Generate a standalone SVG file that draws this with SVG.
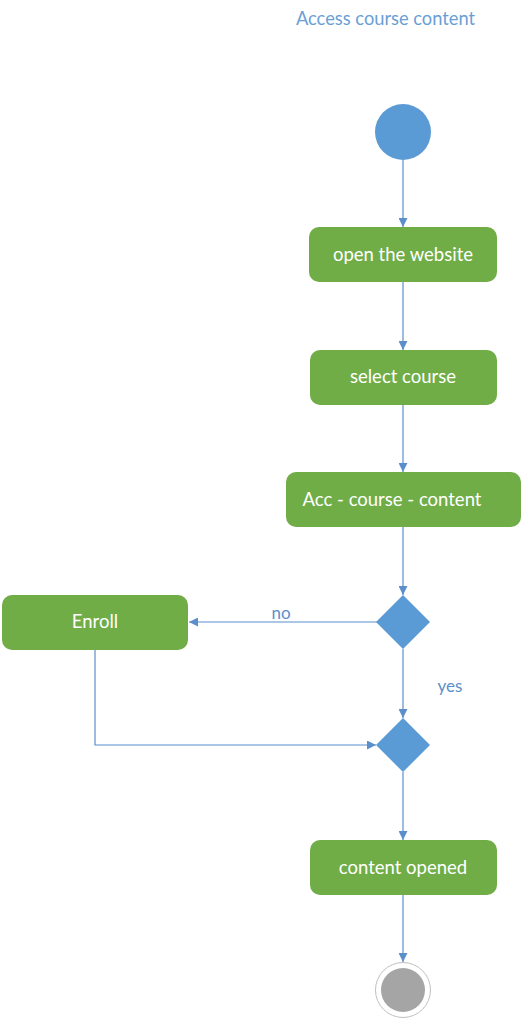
<svg xmlns="http://www.w3.org/2000/svg" width="522" height="1020" viewBox="0 0 522 1020">
<defs>
<style>
.box{fill:#70ad47;}
.lbl{font-family:Lato,"Open Sans","Liberation Sans",sans-serif;font-size:18.5px;fill:#ffffff;text-anchor:middle;dominant-baseline:central;}
.edge{stroke:#5b8fcb;stroke-width:1.2;fill:none;marker-end:url(#arr);}
.elbl{font-family:Lato,"Open Sans","Liberation Sans",sans-serif;font-size:17px;fill:#5b8fcb;}
.dec{fill:#5b9bd5;}
</style>
<marker id="arr" viewBox="0 0 10 10" refX="10" refY="5" markerWidth="9" markerHeight="9" markerUnits="userSpaceOnUse" orient="auto">
<path d="M0,0 L10,5 L0,10 z" fill="#5b8fcb"/>
</marker>
</defs>
<rect width="522" height="1020" fill="#ffffff"/>
<text x="385.5" y="18" class="elbl" style="font-size:18.3px;fill:#6a9fd6" text-anchor="middle" dominant-baseline="central">Access course content</text>
<g id="connectors">
<line class="edge" x1="403" y1="160" x2="403" y2="227"/>
<line class="edge" x1="403" y1="282" x2="403" y2="350"/>
<line class="edge" x1="403" y1="405" x2="403" y2="472"/>
<line class="edge" x1="403" y1="527" x2="403" y2="595"/>
<line class="edge" x1="377" y1="622" x2="189" y2="622"/>
<text x="281" y="612" class="elbl" text-anchor="middle" dominant-baseline="central">no</text>
<line class="edge" x1="403" y1="649" x2="403" y2="718"/>
<text x="450" y="685" class="elbl" text-anchor="middle" dominant-baseline="central">yes</text>
<polyline class="edge" points="95,650 95,745 376,745"/>
<line class="edge" x1="403" y1="772" x2="403" y2="840"/>
<line class="edge" x1="403" y1="895" x2="403" y2="962"/>
</g>
<g id="start"><circle cx="403" cy="132" r="28" fill="#5b9bd5"/></g>
<g id="open-website"><rect class="box" x="309" y="227" width="188" height="55" rx="10"/><text class="lbl" x="403" y="254">open the website</text></g>
<g id="select-course"><rect class="box" x="310" y="350" width="187" height="55" rx="10"/><text class="lbl" x="403" y="376">select course</text></g>
<g id="acc-course-content"><rect class="box" x="286" y="472" width="235" height="55" rx="10"/><text class="lbl" x="392" y="499">Acc - course - content</text></g>
<g id="decision1"><polygon class="dec" points="403,595 430,622 403,649 376,622"/></g>
<g id="enroll"><rect class="box" x="2" y="595" width="186" height="55" rx="10"/><text class="lbl" x="95" y="621">Enroll</text></g>
<g id="decision2"><polygon class="dec" points="403,718 430,745 403,772 376,745"/></g>
<g id="content-opened"><rect class="box" x="310" y="840" width="187" height="55" rx="10"/><text class="lbl" x="403" y="867">content opened</text></g>
<g id="end"><circle cx="403" cy="990" r="27.5" fill="#ffffff" stroke="#bfbfbf" stroke-width="1"/><circle cx="403" cy="990" r="22" fill="#a5a5a5"/></g>
</svg>
